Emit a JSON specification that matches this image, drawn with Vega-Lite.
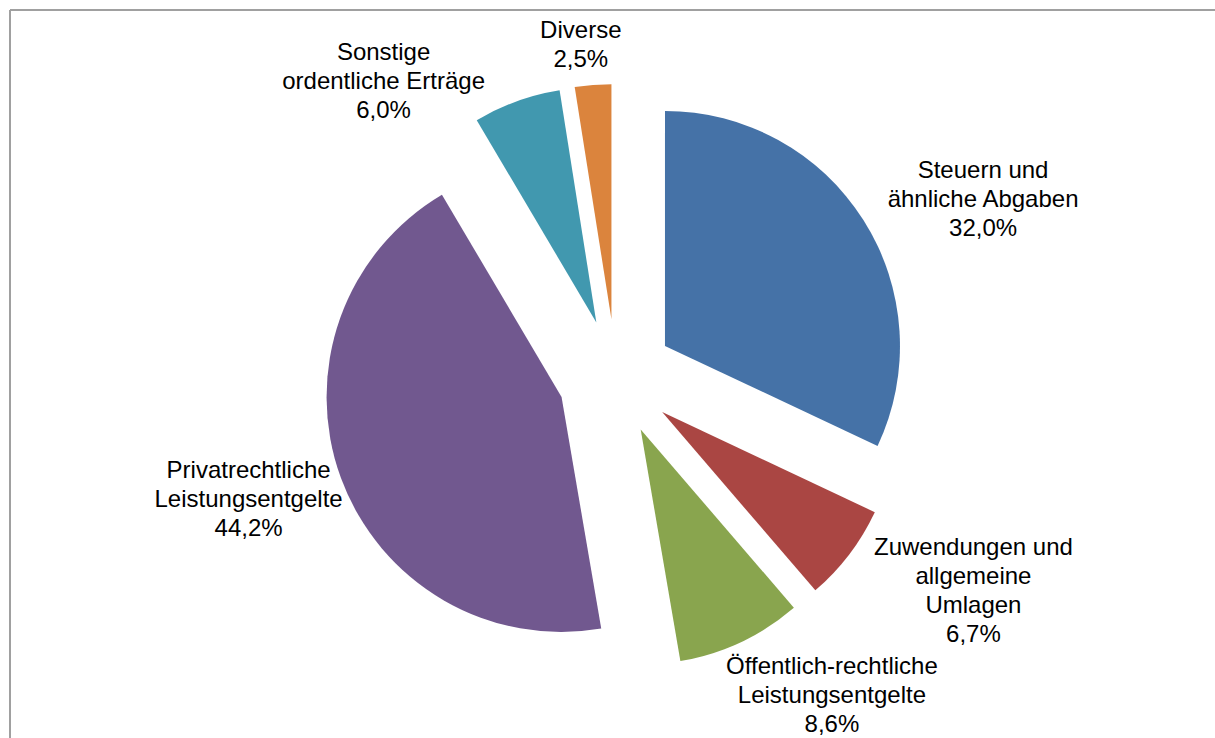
{
  "$schema": "https://vega.github.io/schema/vega-lite/v6.json",
  "width": 1205,
  "height": 728,
  "autosize": {"type": "none"},
  "padding": {"left": 10, "top": 10, "right": 0, "bottom": 0},
  "background": "white",
  "view": {"stroke": "#a0a0a0", "strokeWidth": 2, "strokeDash": [1205, 1933, 728, 0]},
  "data": {
    "values": [
      {"order": 1, "name": "Steuern und\nähnliche Abgaben", "value": 32.0},
      {"order": 2, "name": "Zuwendungen und\nallgemeine\nUmlagen", "value": 6.7},
      {"order": 3, "name": "Öffentlich-rechtliche\nLeistungsentgelte", "value": 8.6},
      {"order": 4, "name": "Privatrechtliche\nLeistungsentgelte", "value": 44.2},
      {"order": 5, "name": "Sonstige\nordentliche Erträge", "value": 6.0},
      {"order": 6, "name": "Diverse", "value": 2.5}
    ]
  },
  "encoding": {
    "theta": {"field": "value", "type": "quantitative", "stack": true},
    "order": {"field": "order", "type": "quantitative"}
  },
  "layer": [
    {
      "mark": {
        "type": "arc",
        "outerRadius": 235,
        "xOffset": {"expr": "3.5 + 58*sin(PI*(datum.value_start+datum.value_end)/100)"},
        "yOffset": {"expr": "3 - 58*cos(PI*(datum.value_start+datum.value_end)/100)"}
      },
      "encoding": {
        "color": {
          "field": "order",
          "type": "nominal",
          "scale": {
            "domain": [1, 2, 3, 4, 5, 6],
            "range": ["#4572A7", "#AA4643", "#89A54E", "#71588F", "#4198AF", "#DB843D"]
          },
          "legend": null
        }
      }
    },
    {
      "transform": [
        {"calculate": "datum.name + '\\n' + replace(format(datum.value, '.1f'), '.', ',') + '%'", "as": "label"}
      ],
      "mark": {
        "type": "text",
        "radius": 385,
        "font": "Liberation Sans",
        "fontSize": 24,
        "lineHeight": 29,
        "lineBreak": "\n",
        "align": "center",
        "baseline": "middle",
        "color": "#000000",
        "dx": {"expr": "[45.5, 54.5, 55.5, -2.5, -98.5, -1.5][datum.order - 1]"},
        "dy": {"expr": "[3, -59.5, -55, -36, 41, 40.5][datum.order - 1]"}
      },
      "encoding": {
        "text": {"field": "label", "type": "nominal"}
      }
    }
  ]
}
